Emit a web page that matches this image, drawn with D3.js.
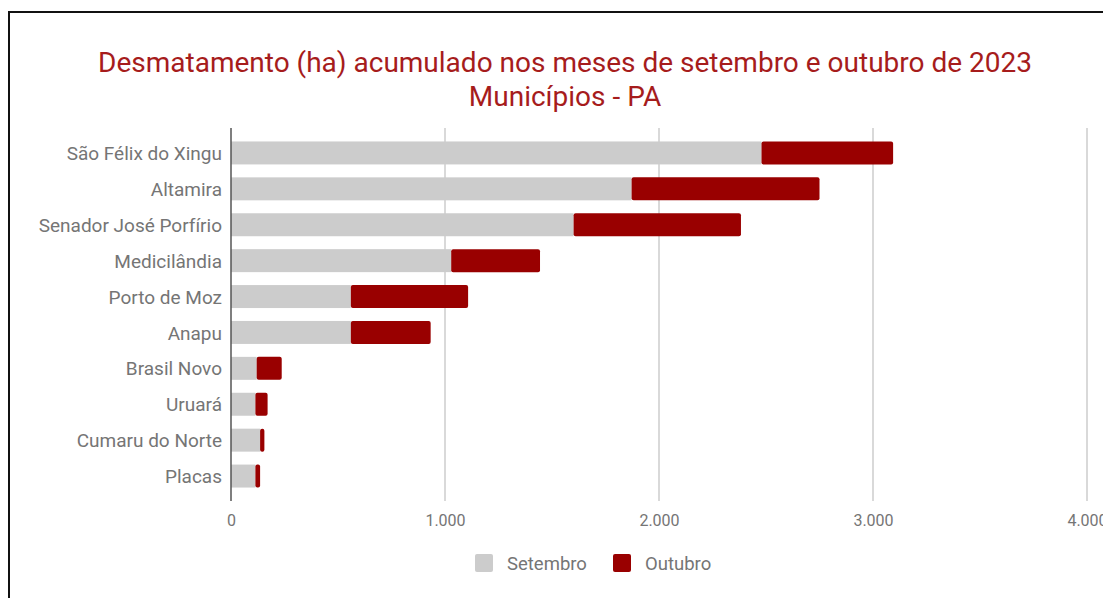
<!DOCTYPE html>
<html>
<head>
<meta charset="utf-8">
<script src="https://cdn.jsdelivr.net/npm/d3@7"></script>
<style>
  html, body { margin: 0; padding: 0; background: #fff; }
  svg { display: block; font-family: Roboto, sans-serif; }
</style>
</head>
<body>
<div id="chart"></div>
<script>
// municipalities, top to bottom
const municipios = [
  'São Félix do Xingu', 'Altamira', 'Senador José Porfírio', 'Medicilândia',
  'Porto de Moz', 'Anapu', 'Brasil Novo', 'Uruará', 'Cumaru do Norte', 'Placas'
];
const setembro = [2479, 1872, 1601, 1029, 560, 560, 120, 114, 136, 114];
const outubro = [615, 878, 782, 415, 548, 373, 117, 57, 20, 22];
const seriesNames = ['Setembro', 'Outubro'];
const xTicks = [0, 1000, 2000, 3000, 4000];

const width = 1103, height = 598;
const plot = { left: 231, right: 1087, top: 128, bottom: 501 };
const colors = { Setembro: '#cccccc', Outubro: '#990000' };

const svg = d3.select('#chart')
  .append('svg')
  .attr('width', width)
  .attr('height', height);

// frame
svg.append('rect')
  .attr('x', 9).attr('y', 12)
  .attr('width', 1200).attr('height', 700)
  .attr('fill', 'none')
  .attr('stroke', '#111')
  .attr('stroke-width', 2);

// title
const title = svg.append('text')
  .attr('text-anchor', 'middle')
  .attr('fill', '#a61c1c')
  .attr('font-size', 28);
title.append('tspan').attr('x', 565).attr('y', 72)
  .text('Desmatamento (ha) acumulado nos meses de setembro e outubro de 2023');
title.append('tspan').attr('x', 565).attr('y', 106)
  .text('Municípios - PA');

const x = d3.scaleLinear()
  .domain([0, 4000])
  .range([plot.left, plot.right]);

const y = d3.scaleBand()
  .domain(municipios)
  .range([plot.top, plot.bottom])
  .paddingInner(0.36)
  .paddingOuter(0.375);

// gridlines
svg.append('g')
  .selectAll('line')
  .data(xTicks.slice(1))
  .join('line')
  .attr('x1', d => x(d)).attr('x2', d => x(d))
  .attr('y1', plot.top).attr('y2', plot.bottom)
  .attr('stroke', '#cccccc')
  .attr('stroke-width', 1.5);

// stacked bars
const rows = municipios.map((m, i) => ({ m, set: setembro[i], out: outubro[i] }));
const stack = d3.stack().keys(['set', 'out'])(rows);

stack.forEach((layer, li) => {
  svg.append('g')
    .attr('fill', colors[seriesNames[li]])
    .selectAll('rect')
    .data(layer)
    .join('rect')
    .attr('x', d => x(d[0]))
    .attr('y', d => y(d.data.m))
    .attr('width', d => x(d[1]) - x(d[0]))
    .attr('height', y.bandwidth())
    .attr('rx', li === 1 ? 2 : 0);
});

// baseline axis line
svg.append('line')
  .attr('x1', x(0)).attr('x2', x(0))
  .attr('y1', plot.top).attr('y2', plot.bottom)
  .attr('stroke', '#555')
  .attr('stroke-width', 1.5);

// category labels
const yAxis = svg.append('g')
  .attr('transform', `translate(${plot.left - 9},1)`)
  .call(d3.axisLeft(y).tickSize(0).tickPadding(0));
yAxis.select('.domain').remove();
yAxis.selectAll('text')
  .attr('font-family', 'Roboto, sans-serif')
  .attr('font-size', 19)
  .attr('fill', '#757575');

// x tick labels
const fmt = d => d3.format(',')(d).replace(/,/g, '.');
const xAxis = svg.append('g')
  .attr('transform', `translate(0,${plot.bottom + 14})`)
  .call(d3.axisBottom(x).tickValues(xTicks).tickFormat(fmt).tickSize(0).tickPadding(0));
xAxis.select('.domain').remove();
xAxis.selectAll('text')
  .attr('font-family', 'Roboto, sans-serif')
  .attr('font-size', 16)
  .attr('fill', '#757575');

// legend
const legend = svg.append('g');
const legendPos = [475, 613];
seriesNames.forEach((name, i) => {
  const g = legend.append('g').attr('transform', `translate(${legendPos[i]},554)`);
  g.append('rect')
    .attr('width', 18).attr('height', 18)
    .attr('rx', 2)
    .attr('fill', colors[name]);
  g.append('text')
    .attr('x', 32).attr('y', 16)
    .attr('font-size', 18.5)
    .attr('fill', '#757575')
    .text(name);
});
</script>
</body>
</html>
